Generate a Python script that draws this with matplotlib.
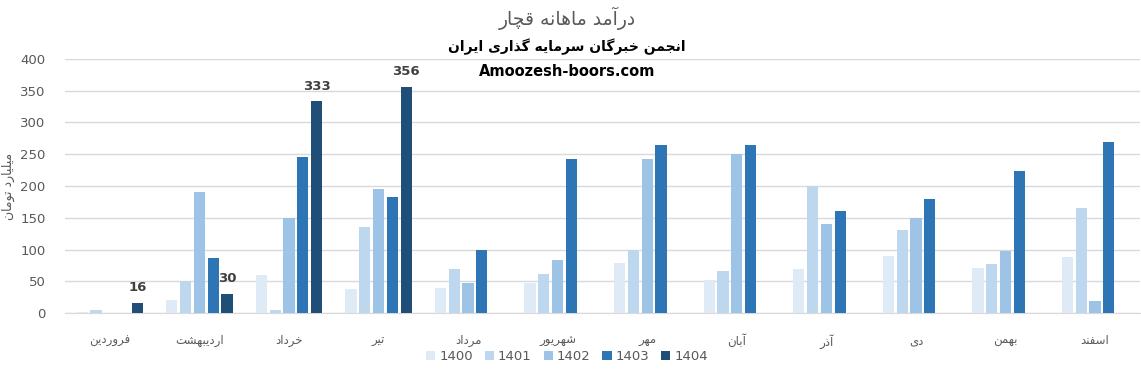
import matplotlib
matplotlib.use('Agg')
import matplotlib.pyplot as plt
import numpy as np

# Persian letters -> (isolated, final, initial, medial) presentation forms
FORMS = {
    'ا': ('\uFE8D', '\uFE8E', None, None),
    'آ': ('\uFE81', '\uFE82', None, None),
    'ب': ('\uFE8F', '\uFE90', '\uFE91', '\uFE92'),
    'ت': ('\uFE95', '\uFE96', '\uFE97', '\uFE98'),
    'ج': ('\uFE9D', '\uFE9E', '\uFE9F', '\uFEA0'),
    'چ': ('\uFB7A', '\uFB7B', '\uFB7C', '\uFB7D'),
    'خ': ('\uFEA5', '\uFEA6', '\uFEA7', '\uFEA8'),
    'د': ('\uFEA9', '\uFEAA', None, None),
    'ذ': ('\uFEAB', '\uFEAC', None, None),
    'ر': ('\uFEAD', '\uFEAE', None, None),
    'ز': ('\uFEAF', '\uFEB0', None, None),
    'س': ('\uFEB1', '\uFEB2', '\uFEB3', '\uFEB4'),
    'ش': ('\uFEB5', '\uFEB6', '\uFEB7', '\uFEB8'),
    'ف': ('\uFED1', '\uFED2', '\uFED3', '\uFED4'),
    'ق': ('\uFED5', '\uFED6', '\uFED7', '\uFED8'),
    'گ': ('\uFB92', '\uFB93', '\uFB94', '\uFB95'),
    'ل': ('\uFEDD', '\uFEDE', '\uFEDF', '\uFEE0'),
    'م': ('\uFEE1', '\uFEE2', '\uFEE3', '\uFEE4'),
    'ن': ('\uFEE5', '\uFEE6', '\uFEE7', '\uFEE8'),
    'ه': ('\uFEE9', '\uFEEA', '\uFEEB', '\uFEEC'),
    'و': ('\uFEED', '\uFEEE', None, None),
    'ی': ('\uFBFC', '\uFBFD', '\uFBFE', '\uFBFF'),
}


def fa(text):
    out = []
    for i, ch in enumerate(text):
        if ch not in FORMS:
            out.append(ch)
            continue
        iso, fin, ini, med = FORMS[ch]
        prev = text[i - 1] if i > 0 else ''
        nxt = text[i + 1] if i + 1 < len(text) else ''
        join_prev = prev in FORMS and FORMS[prev][2] is not None
        join_next = ini is not None and nxt in FORMS
        if join_prev and join_next:
            out.append(med)
        elif join_prev:
            out.append(fin)
        elif join_next:
            out.append(ini)
        else:
            out.append(iso)
    return ''.join(reversed(out))


months = ['فروردین', 'اردیبهشت', 'خرداد', 'تیر', 'مرداد', 'شهریور',
          'مهر', 'آبان', 'آذر', 'دی', 'بهمن', 'اسفند']
years = ['1400', '1401', '1402', '1403', '1404']
nan = np.nan
v1400 = [2, 21, 60, 38, 40, 48, 79, 52, 70, 90, 71, 89]
v1401 = [5, 51, 5, 136, 70, 62, 100, 67, 200, 131, 78, 166]
v1402 = [nan, 191, 149, 196, 48, 84, 243, 251, 141, 149, 98, 19]
v1403 = [nan, 87, 245, 182, 100, 243, 265, 264, 161, 180, 223, 270]
v1404 = [16, 30, 333, 356, nan, nan, nan, nan, nan, nan, nan, nan]
series = [v1400, v1401, v1402, v1403, v1404]
colors = ['#DEEBF7', '#BDD7EE', '#9DC3E6', '#2E75B6', '#1F4E79']

title = 'درآمد ماهانه قچار'
subtitle = 'انجمن خبرگان سرمایه گذاری ایران'
site = 'Amoozesh-boors.com'
ylabel = 'میلیارد تومان'

fig = plt.figure(figsize=(11.41, 3.75), dpi=100)
ax = fig.add_axes([0.057, 0.165, 0.942, 0.678])

x = np.arange(len(months))
pitch = 0.154
width = 0.125
for k, (vals, col, yr) in enumerate(zip(series, colors, years)):
    bars = ax.bar(x + (k - 2) * pitch, vals, width=width, color=col, label=yr, zorder=3)
    if yr == '1404':
        for b, v in zip(bars, vals):
            if not np.isnan(v):
                ax.text(b.get_x() + b.get_width() / 2, v + 14, str(int(v)),
                        ha='center', va='bottom', fontsize=9.5, fontweight='bold',
                        color='#404040')

ax.set_xlim(-0.5, 11.5)
ax.set_ylim(0, 400)
ax.set_yticks(range(0, 401, 50))
ax.yaxis.grid(True, color='#D9D9D9', linewidth=1, zorder=0)
ax.set_axisbelow(True)
for s in ['top', 'right', 'left']:
    ax.spines[s].set_visible(False)
ax.spines['bottom'].set_color('#D9D9D9')
ax.tick_params(axis='both', length=0, colors='#595959', labelsize=9.5)
ax.tick_params(axis='y', pad=14)
ax.tick_params(axis='x', pad=15)
ax.set_xticks(x)
ax.set_xticklabels([fa(m) for m in months], fontsize=8.5, color='#595959')
ax.set_ylabel(fa(ylabel), fontsize=9, color='#595959', labelpad=4)

fig.text(0.497, 0.952, fa(title), ha='center', va='center', fontsize=13.5, color='#595959')
fig.text(0.497, 0.875, fa(subtitle), ha='center', va='center', fontsize=10,
         fontweight='bold', color='black')
fig.text(0.497, 0.808, site, ha='center', va='center', fontsize=10.5,
         fontweight='bold', color='black')

leg = fig.legend(loc='center', bbox_to_anchor=(0.497, 0.05), ncol=5, frameon=False,
                 handlelength=0.7, handleheight=0.7, handletextpad=0.3,
                 columnspacing=0.9, fontsize=9.5)
for t in leg.get_texts():
    t.set_color('#595959')

fig.savefig('out.png', dpi=100)
